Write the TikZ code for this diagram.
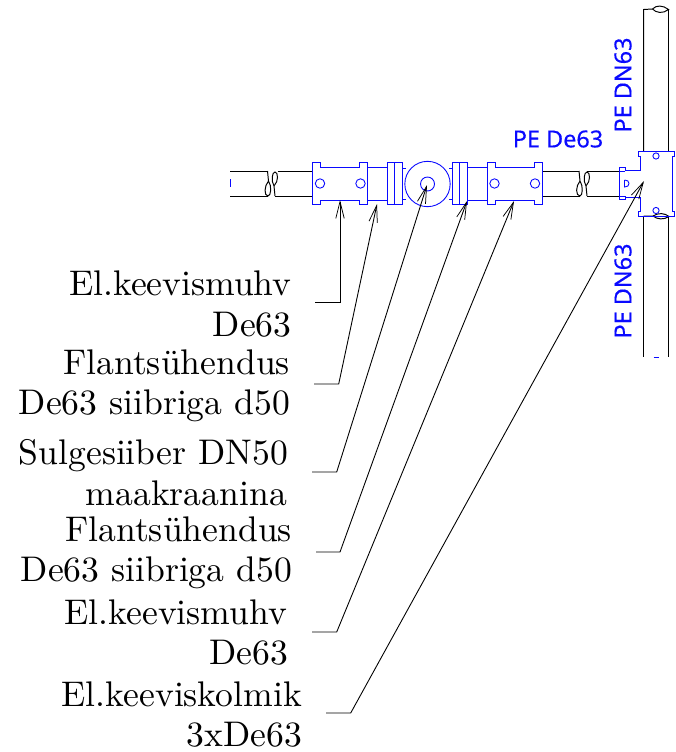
\documentclass[tikz,border=0pt]{standalone}
\usepackage{fontspec}
\newfontfamily\pefont[FakeBold=0.4]{Noto Sans}
\newfontfamily\labfont{lmroman10-regular.otf}
\usetikzlibrary{arrows.meta}
\definecolor{cadblue}{RGB}{10,10,255}
\tikzset{
  x=0.0375cm,y=-0.0375cm,
  part/.style={draw=cadblue,line width=0.95pt,line join=miter},
  pipe/.style={draw=black,line width=1.05pt},
  leader/.style={draw=black,line width=0.95pt,-{Straight Barb[length=18pt,width=9pt,line width=0.8pt]}},
  lab/.style={anchor=base east,inner sep=0pt,font=\labfont\fontsize{38}{42}\selectfont,text=black},
  pelab/.style={inner sep=0pt,font=\pefont\fontsize{25}{28}\selectfont,text=cadblue}
}
\newcommand{\muff}[1]{%
  \draw[part] (#1,162) -- ++(8,0) -- ++(0,5) -- ++(39,0) -- ++(0,-5) -- ++(8,0) -- ++(0,42) -- ++(-8,0) -- ++(0,-4) -- ++(-39,0) -- ++(0,4) -- ++(-8,0) -- cycle;
  \draw[part] (#1+7.5,183.5) circle[radius=4.7];
  \draw[part] (#1+48,183.5) circle[radius=4.7];
}
\begin{document}
\begin{tikzpicture}
\useasboundingbox (0,0) rectangle (675,752);
% left pipe
\draw[pipe] (230,171) -- (267.5,171) (277.5,171) -- (312,171);
\draw[pipe] (230,196) -- (268,196) (275,196) -- (312,196);
\draw[pipe] (267.5,171) -- (268.5,181) .. controls (272,186) and (271,196) .. (268,196)  .. controls (264,196) and (264,186) .. (268.5,181);
\draw[pipe] (275,196) -- (274,186) .. controls (271,181) and (272,172) .. (275,172) .. controls (278,172) and (279,181) .. (274,186);
\draw[part] (230,179) -- (230,187);
% right pipe
\draw[pipe] (542,171) -- (579,171) (587,171) -- (619,171);
\draw[pipe] (542,196) -- (580,196) (587,196) -- (619,196);
\draw[pipe] (579,171) -- (580,181) .. controls (583.5,186) and (582.5,196) .. (580,196) .. controls (575.5,196) and (575.5,186) .. (580,181);
\draw[pipe] (587,196) -- (586,186) .. controls (583,181) and (584,172) .. (587,172) .. controls (590,172) and (591,181) .. (586,186);
% vertical pipes
\draw[pipe] (643.5,151) -- (643.5,9.5) -- (652.5,9) .. controls (656,5) and (663,5) .. (668.5,9.5) .. controls (663,14) and (656,13) .. (652.5,9);
\draw[pipe] (668.5,151) -- (668.5,9.5);
\draw[pipe] (643.5,216) -- (643.5,357) (668.5,216) -- (668.5,357);
\draw[pipe] (643.5,216) -- (653,216) .. controls (658,212.5) and (665,213) .. (669,216.5) .. controls (664,220) and (657,219.5) .. (653,216);
\draw[part] (653.5,357) -- (659,357);
% left muff
\muff{312.5}
% left flange
\draw[part] (367,167.3) -- (387,167.3) (367,200) -- (387,200);
\draw[part] (387,162) rectangle (402.5,204);
\draw[part] (394.7,162) -- (394.7,204);
\draw[part] (402.5,168) -- (405.5,168) (402.5,199.5) -- (405.5,199.5);
% valve
\node[part,circle,minimum size=1.7cm,inner sep=0pt] (valve) at (427.5,184) {};
\node[part,circle,minimum size=0.525cm,inner sep=0pt] (bore) at (427.5,184) {};
% right flange
\draw[part] (449,168) -- (452,168) (449,199.5) -- (452,199.5);
\draw[part] (452,162) rectangle (467,204);
\draw[part] (459.3,162) -- (459.3,204);
\draw[part] (467,167.3) -- (487,167.3) (467,200) -- (487,200);
\muff{487}
% tee
\draw[part] (625,170.5) -- (640,170.5) -- (640,156) -- (638,156) -- (638,151) -- (674,151) -- (674,156) -- (672,156) -- (672,211) -- (674,211) -- (674,216) -- (638,216) -- (638,211) -- (640,211) -- (640,197) -- (625,197);
\draw[part] (625,171) -- (625,167.5) -- (619,167.5) -- (619,199.5) -- (625,199.5) -- (625,196);
\draw[part] (619,171) -- (625,171) (619,196) -- (625,196);
\draw[part] (656,156) circle[radius=3.1];
\draw[part] (656,210.5) circle[radius=3.1];
\draw[part] (624.5,180) -- (624.5,187) .. controls (630.5,187.5) and (630.5,179.5) .. (624.5,180);
% leaders
\coordinate (t1) at (340,200);
\coordinate (t2) at (377,204);
\coordinate (t3) at (427,185);
\coordinate (t4) at (467,201);
\coordinate (t5) at (514,201);
\coordinate (t6) at (644,181);
\coordinate (e1) at (315,302.5);
\coordinate (e2) at (314,384);
\coordinate (e3) at (312,472);
\coordinate (e4) at (316,552);
\coordinate (e5) at (312,632);
\coordinate (e6) at (326,713);
\draw[leader] (e1) -- (340,302.5) -- (t1);
\draw[leader] (e2) -- (338.7,384) -- (t2);
\draw[leader] (e3) -- (336.7,472) -- (t3);
\draw[leader] (e4) -- (340,552) -- (t4);
\draw[leader] (e5) -- (336.7,632) -- (t5);
\draw[leader] (e6) -- (350.7,713) -- (t6);
% labels
\node[lab] (l1) at (291.7,295) {El.keevismuhv};
\node[lab] (l2) at (291.7,336) {De63};
\node[lab] (l3) at (290,374) {Flantsühendus};
\node[lab] (l4) at (290,414) {De63 siibriga d50};
\node[lab] (l5) at (288,464) {Sulgesiiber DN50};
\node[lab] (l6) at (287,505) {maakraanina};
\node[lab] (l7) at (292,541) {Flantsühendus};
\node[lab] (l8) at (292,581) {De63 siibriga d50};
\node[lab] (l9) at (287,624) {El.keevismuhv};
\node[lab] (l10) at (288,664) {De63};
\node[lab] (l11) at (302,706) {El.keeviskolmik};
\node[lab] (l12) at (302,746) {3xDe63};
\node[pelab] (p1) at (558,139) {PE De63};
\node[pelab,rotate=90] (p2) at (623,85) {PE DN63};
\node[pelab,rotate=90] (p3) at (623,291) {PE DN63};
\end{tikzpicture}
\end{document}
